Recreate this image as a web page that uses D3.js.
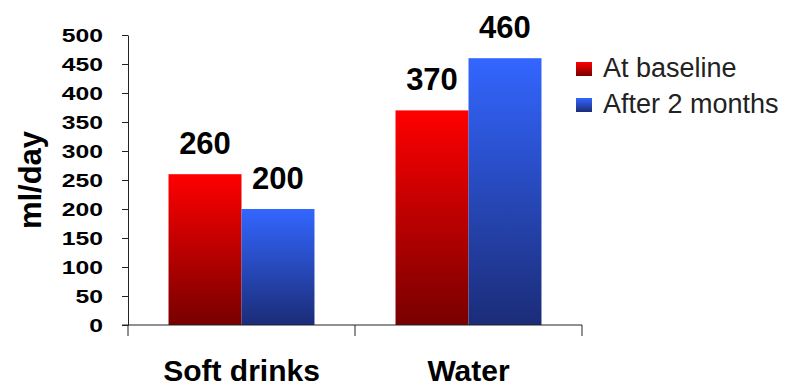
<!DOCTYPE html>
<html>
<head>
<meta charset="utf-8">
<script src="https://cdn.jsdelivr.net/npm/d3@7"></script>
<style>
  html, body { margin: 0; padding: 0; background: #fff; }
  svg { display: block; font-family: "Liberation Sans", Arial, sans-serif; }
</style>
</head>
<body>
<svg id="chart" width="789" height="388"></svg>
<script>
// Daily intake (ml/day) by drink type, before and after the programme
const categories = ["Soft drinks", "Water"];
const seriesNames = ["At baseline", "After 2 months"];
const baselineValues = [260, 370];
const afterValues = [200, 460];
const yTicks = [0, 50, 100, 150, 200, 250, 300, 350, 400, 450, 500];

const seriesValues = [baselineValues, afterValues];
const rows = categories.map((c, i) => ({
  category: c,
  values: seriesNames.map((s, j) => ({ series: s, idx: j, value: seriesValues[j][i] }))
}));

const svg = d3.select("#chart");
const margin = { left: 128, right: 207, top: 35, bottom: 63 };
const W = 789, H = 388;

const x0 = d3.scaleBand()
  .domain(categories)
  .range([margin.left, W - margin.right])
  .padding(0);

const groupWidth = x0.bandwidth() * 0.643;
const x1 = d3.scaleBand()
  .domain(seriesNames)
  .range([0, groupWidth])
  .padding(0);

const y = d3.scaleLinear()
  .domain([0, 500])
  .range([H - margin.bottom, margin.top]);

// Vertical gradients for the two series
const defs = svg.append("defs");
const gradStops = [
  ["grad-base", "#ff0000", "#780000"],
  ["grad-after", "#3366ff", "#1b2c78"]
];
gradStops.forEach(([id, top, bottom]) => {
  const g = defs.append("linearGradient")
    .attr("id", id)
    .attr("x1", 0).attr("y1", 0).attr("x2", 0).attr("y2", 1);
  g.append("stop").attr("offset", "0%").attr("stop-color", top);
  g.append("stop").attr("offset", "100%").attr("stop-color", bottom);
});
const fillFor = i => `url(#${gradStops[i][0]})`;

// Bars
const groups = svg.append("g")
  .selectAll("g")
  .data(rows)
  .join("g")
  .attr("transform", d => `translate(${x0(d.category) + (x0.bandwidth() - groupWidth) / 2},0)`);

groups.selectAll("rect")
  .data(d => d.values)
  .join("rect")
  .attr("x", d => x1(d.series))
  .attr("y", d => y(d.value))
  .attr("width", x1.bandwidth())
  .attr("height", d => y(0) - y(d.value))
  .attr("fill", d => fillFor(d.idx));

// Value labels
groups.selectAll("text.val")
  .data(d => d.values)
  .join("text")
  .attr("class", "val")
  .attr("x", d => x1(d.series) + x1.bandwidth() / 2)
  .attr("y", d => y(d.value) - 20)
  .attr("text-anchor", "middle")
  .attr("font-size", 31)
  .attr("font-weight", "bold")
  .attr("fill", "#000")
  .text(d => d.value);

// Y axis
const yAxis = svg.append("g")
  .attr("transform", `translate(${margin.left},0)`)
  .call(d3.axisLeft(y).tickValues(yTicks).tickSize(6).tickSizeOuter(0));
yAxis.select(".domain").attr("stroke", "#222");
yAxis.selectAll(".tick line").attr("stroke", "#222");
yAxis.selectAll(".tick text")
  .attr("x", 0)
  .attr("transform", "translate(-25,0) scale(1.3,1)")
  .attr("font-size", 19)
  .attr("font-weight", "bold")
  .attr("font-family", "Liberation Sans, Arial, sans-serif")
  .attr("fill", "#000");

// X axis: ticks sit on the category boundaries
const xAxisG = svg.append("g").attr("transform", `translate(0,${y(0)})`);
xAxisG.append("line")
  .attr("x1", margin.left - 6).attr("x2", W - margin.right)
  .attr("stroke", "#222");
const boundaries = categories.map(c => x0(c)).concat([x0(categories[categories.length - 1]) + x0.bandwidth()]);
xAxisG.selectAll("line.tk")
  .data(boundaries)
  .join("line")
  .attr("class", "tk")
  .attr("x1", d => d).attr("x2", d => d)
  .attr("y1", 0).attr("y2", 11)
  .attr("stroke", "#222");
xAxisG.selectAll("text")
  .data(categories)
  .join("text")
  .attr("x", d => x0(d) + x0.bandwidth() / 2)
  .attr("y", 56)
  .attr("text-anchor", "middle")
  .attr("font-size", 30)
  .attr("font-weight", "bold")
  .attr("fill", "#000")
  .text(d => d);

// Y axis title
svg.append("text")
  .attr("transform", `translate(41,${(y(0) + y(500)) / 2}) rotate(-90)`)
  .attr("text-anchor", "middle")
  .attr("font-size", 31)
  .attr("font-weight", "bold")
  .attr("fill", "#000")
  .text("ml/day");

// Legend
const legend = svg.append("g").attr("transform", "translate(576,0)");
const legendRows = legend.selectAll("g")
  .data(seriesNames)
  .join("g")
  .attr("transform", (d, i) => `translate(0,${62 + i * 36})`);
legendRows.append("rect")
  .attr("width", 16).attr("height", 14)
  .attr("fill", (d, i) => fillFor(i));
legendRows.append("text")
  .attr("x", 27)
  .attr("y", 15)
  .attr("font-size", 27)
  .attr("fill", "#222")
  .text(d => d);
</script>
</body>
</html>
